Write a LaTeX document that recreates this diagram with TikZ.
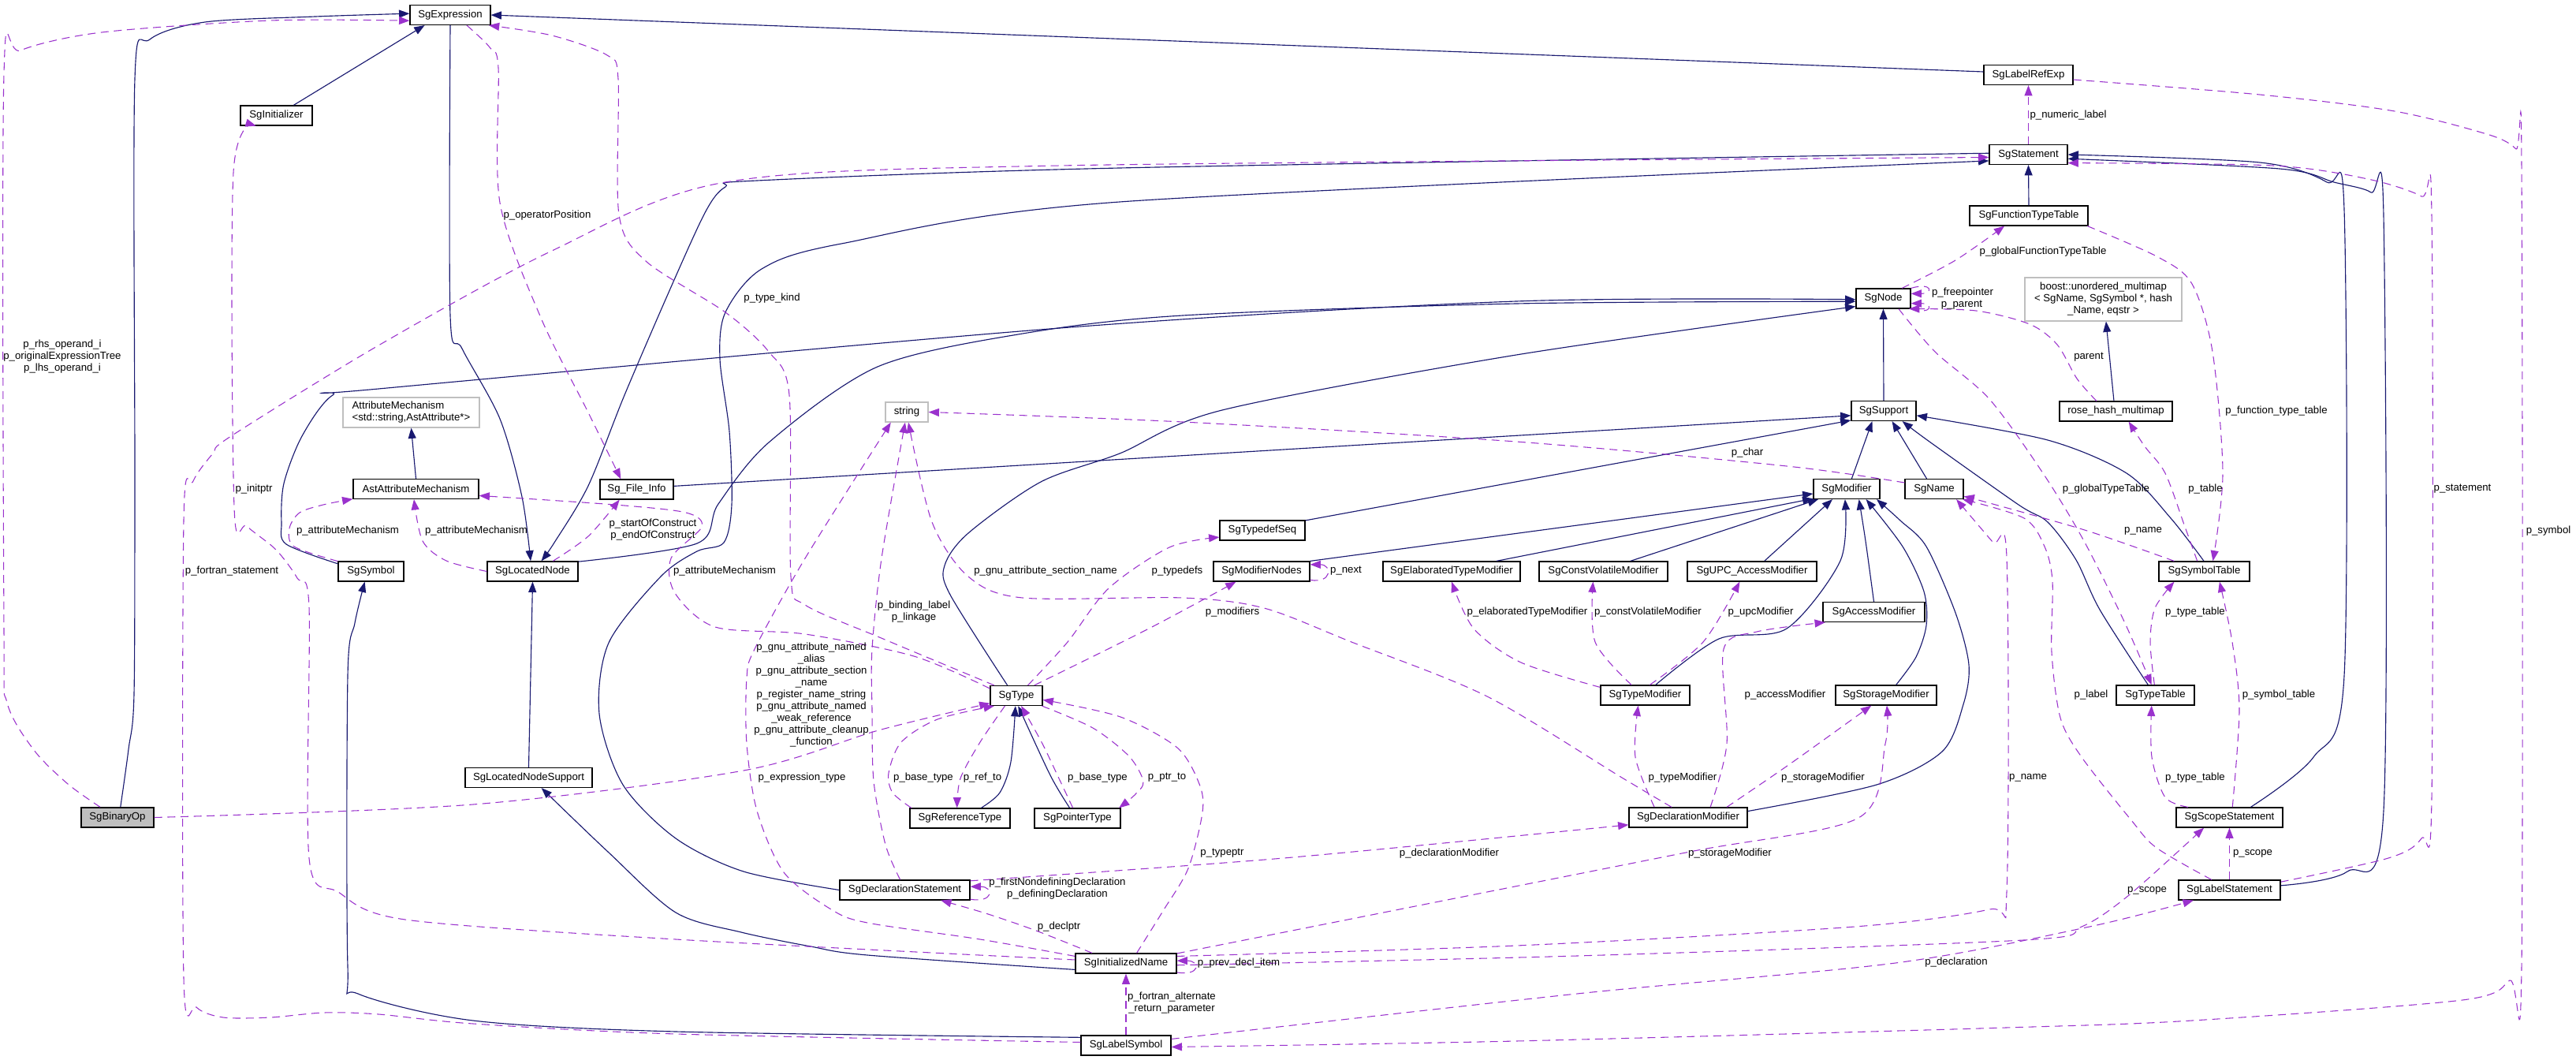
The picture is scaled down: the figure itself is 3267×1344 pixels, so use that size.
\documentclass[tikz,border=0pt]{standalone}
\usepackage{fontspec}
\setmainfont{Liberation Sans}
\usetikzlibrary{arrows.meta}
\definecolor{navyc}{HTML}{191970}
\definecolor{purp}{HTML}{9A32CD}
\definecolor{lgray}{HTML}{BFBFBF}
\tikzset{
 fnt/.style={font=\fontsize{9.9}{11.2}\selectfont},
 box/.style={fnt, draw=black, line width=0.9pt, minimum height=18.75pt, inner sep=0pt},
 gbox/.style={box, draw=lgray},
 inh/.style={draw=navyc, line width=0.85pt, -{Triangle[length=10pt,width=7.5pt]}},
 use/.style={draw=purp, line width=0.8pt, dash pattern=on 7.5pt off 5pt, -{Triangle[length=10pt,width=7.5pt]}},
 lbl/.style={fnt, inner sep=0pt, align=center},
}
\begin{document}
\begin{tikzpicture}[x=0.75pt,y=-0.75pt]
\useasboundingbox (0,0) rectangle (3267,1344);
% ---------------- nodes ----------------
\node[box, minimum width=76.5pt] (SgExpression) at (571,19) {SgExpression};
\node[box, minimum width=68.25pt] (SgInitializer) at (350.5,146.5) {SgInitializer};
\node[gbox, minimum width=129.75pt, minimum height=28.5pt, align=left] (AttrMech) at (521.5,523) {AttributeMechanism\\<std::string,AstAttribute*>};
\node[box, minimum width=119.25pt] (AstAttrMech) at (527.5,620) {AstAttributeMechanism};
\node[box, minimum width=69.75pt] (SgFileInfo) at (807.5,620.5) {Sg\_File\_Info};
\node[box, minimum width=62.25pt] (SgSymbol) at (470.5,724.5) {SgSymbol};
\node[box, minimum width=86.25pt] (SgLocatedNode) at (675.5,724.5) {SgLocatedNode};
\node[gbox, minimum width=40.5pt] (strg) at (1150,522.5) {string};
\node[box, minimum width=120.75pt] (SgLocatedNodeSupport) at (670.5,986) {SgLocatedNodeSupport};
\node[box, minimum width=69pt, fill=lgray] (SgBinaryOp) at (149,1036.5) {SgBinaryOp};
\node[box, minimum width=49.5pt] (SgType) at (1289,882) {SgType};
\node[box, minimum width=95.25pt] (SgReferenceType) at (1217.5,1037.5) {SgReferenceType};
\node[box, minimum width=81.75pt] (SgPointerType) at (1366.5,1037.5) {SgPointerType};
\node[box, minimum width=123.75pt] (SgDeclarationStatement) at (1147.5,1128.5) {SgDeclarationStatement};
\node[box, minimum width=81pt] (SgTypedefSeq) at (1601,672.5) {SgTypedefSeq};
\node[box, minimum width=91.5pt] (SgModifierNodes) at (1600,724.5) {SgModifierNodes};
\node[box, minimum width=130.5pt] (SgElabTM) at (1841,724.5) {SgElaboratedTypeModifier};
\node[box, minimum width=122.25pt] (SgCVM) at (2033.5,724.5) {SgConstVolatileModifier};
\node[box, minimum width=123pt] (SgUPC) at (2222,724.5) {SgUPC\_AccessModifier};
\node[box, minimum width=96.75pt] (SgAccessModifier) at (2376.5,776) {SgAccessModifier};
\node[box, minimum width=63pt] (SgModifier) at (2342,620) {SgModifier};
\node[box, minimum width=55.5pt] (SgName) at (2453,620) {SgName};
\node[box, minimum width=61.5pt] (SgSupport) at (2389,521) {SgSupport};
\node[box, minimum width=51.75pt] (SgNode) at (2388.5,378.5) {SgNode};
\node[box, minimum width=84.75pt] (SgTypeModifier) at (2086.5,881.5) {SgTypeModifier};
\node[box, minimum width=96pt] (SgStorageModifier) at (2392,881.5) {SgStorageModifier};
\node[box, minimum width=112.5pt] (SgDeclMod) at (2141,1036.5) {SgDeclarationModifier};
\node[box, minimum width=96pt] (SgInitializedName) at (1428,1221.5) {SgInitializedName};
\node[box, minimum width=85.5pt] (SgLabelSymbol) at (1428,1325.5) {SgLabelSymbol};
\node[box, minimum width=84.75pt] (SgLabelRefExp) at (2572.5,95) {SgLabelRefExp};
\node[box, minimum width=74.25pt] (SgStatement) at (2572.5,196) {SgStatement};
\node[box, minimum width=112.5pt] (SgFunctionTypeTable) at (2573,273.5) {SgFunctionTypeTable};
\node[gbox, minimum width=149.25pt, minimum height=41.25pt, align=center] (boost) at (2667.5,379.5) {boost::unordered\_multimap\\< SgName, SgSymbol *, hash\\\_Name, eqstr >};
\node[box, minimum width=107.25pt] (rose) at (2683.5,521.5) {rose\_hash\_multimap};
\node[box, minimum width=86.25pt] (SgSymbolTable) at (2795.5,724.5) {SgSymbolTable};
\node[box, minimum width=74.25pt] (SgTypeTable) at (2733.5,881.5) {SgTypeTable};
\node[box, minimum width=101.25pt] (SgScopeStatement) at (2827.5,1036.5) {SgScopeStatement};
\node[box, minimum width=96.75pt] (SgLabelStatement) at (2827.5,1128.5) {SgLabelStatement};
% ---------------- inheritance (navy) ----------------
\draw[inh] plot[smooth] coordinates {(SgBinaryOp.74) (163,950) (170,880) (171,600) (171,100) (190,50) (260,28) (400,21) (SgExpression.178)};
\draw[inh] (SgInitializer.31) -- (SgExpression.202);
\draw[inh] (SgLabelRefExp.176) -- (SgExpression.east);
\draw[inh] plot[smooth] coordinates {(SgExpression.270) (571,400) (586,442) (634,531) (662,630) (SgLocatedNode.101)};
\draw[inh] plot[smooth] coordinates {(SgStatement.178) (1420,213) (960,229) (920,237) (895,268) (851,364) (792,501) (746,616) (703,688) (SgLocatedNode.50)};
\draw[inh] plot[smooth] coordinates {(SgDeclarationStatement.west) (943,1105) (857,1063) (790,995) (760,905) (772,815) (838,731) (884,699) (918,688) (928,640) (925,547) (913,455) (920,396) (966,341) (1067,309) (1420,256) (SgStatement.189)};
\draw[inh] plot[smooth] coordinates {(SgLocatedNode.12) (884,689) (911,639) (975,561) (1113,465) (1297,423) (1500,400) (1923,385) (SgNode.186)};
\draw[inh] plot[smooth] coordinates {(SgSymbol.167) (363,690) (357,663) (360,613) (383,553) (422,501) (480,493) (1344,416) (1923,382) (SgNode.182)};
\draw[inh] plot[smooth] coordinates {(SgType.131) (1205,754) (1198,717) (1228,676) (1320,611) (1420,575) (1550,520) (1923,450) (SgNode.196)};
\draw[inh] (SgSupport.north) -- (SgNode.south);
\draw[inh] (SgFileInfo.5) -- (SgSupport.188);
\draw[inh] (SgTypedefSeq.13) -- (SgSupport.196);
\draw[inh] (SgModifier.64) -- (SgSupport.222);
\draw[inh] (SgName.126) -- (SgSupport.309);
\draw[inh] plot[smooth] coordinates {(SgTypeTable.125) (2663,773) (2633,710) (2597,662) (2560,640) (2447,560) (SgSupport.331)};
\draw[inh] plot[smooth] coordinates {(SgSymbolTable.92) (2753,657) (2697,600) (2597,558) (SgSupport.352)};
\draw[inh] (SgModifierNodes.north east) -- (SgModifier.188);
\draw[inh] (SgElabTM.13) -- (SgModifier.196);
\draw[inh] (SgCVM.21) -- (SgModifier.200);
\draw[inh] (SgUPC.40) -- (SgModifier.216);
\draw[inh] plot[smooth] coordinates {(SgAccessModifier.90) (2366,686) (SgModifier.320)};
\draw[inh] plot[smooth] coordinates {(SgStorageModifier.46) (2430,833) (2443,793) (2440,750) (2413,693) (SgModifier.332)};
\draw[inh] plot[smooth] coordinates {(SgTypeModifier.45) (2180,810) (2266,797) (2334,711) (SgModifier.261)};
\draw[inh] plot[smooth] coordinates {(SgDeclMod.6) (2380,995) (2463,953) (2490,893) (2497,843) (2480,777) (2443,693) (2410,660) (SgModifier.341)};
\draw[inh] plot[smooth] coordinates {(SgReferenceType.26) (1268,1005) (1282,966) (SgType.265)};
\draw[inh] plot[smooth] coordinates {(SgPointerType.127) (1332,983) (SgType.280)};
\draw[inh] (SgLocatedNodeSupport.north) -- (SgLocatedNode.south);
\draw[inh] plot[smooth] coordinates {(SgInitializedName.187) (1100,1211) (1028,1200) (940,1182) (857,1157) (771,1080) (SgLocatedNodeSupport.321)};
\draw[inh] plot[smooth] coordinates {(SgLabelSymbol.170) (857,1308) (600,1294) (454,1260) (441,1225) (441,857) (450,790) (SgSymbol.239)};
\draw[inh] (SgFunctionTypeTable.north) -- (SgStatement.south);
\draw[inh] plot[smooth] coordinates {(SgScopeStatement.26) (2934,960) (2973,857) (2973,266) (2951,231) (2866,206) (SgStatement.0)};
\draw[inh] plot[smooth] coordinates {(SgLabelStatement.5) (2977,1105) (3023,1028) (3023,274) (3007,244) (2960,231) (2891,214) (SgStatement.354)};
\draw[inh] (rose.101) -- (boost.277);
\draw[inh] (AstAttrMech.north) -- (AttrMech.south);
% ---------------- usage (purple dashed) ----------------
\draw[use] plot[smooth] coordinates {(SgBinaryOp.149) (86,994) (43,951) (9,891) (5,797) (5,94) (26,64) (129,41) (343,26) (SgExpression.188)};
\draw[use] plot[smooth] coordinates {(SgBinaryOp.east) (600,1020) (943,977) (1114,926) (SgType.196)};
\draw[use] plot[smooth] coordinates {(SgType.155) (1120,810) (1021,767) (1003,731) (1001,501) (975,446) (920,396) (819,331) (785,272) (784,100) (770,70) (700,45) (SgExpression.345)};
\draw[use] plot[smooth] coordinates {(SgExpression.328) (621,60) (632,86) (634,257) (686,403) (746,523) (SgFileInfo.147)};
\draw[use] plot[smooth] coordinates {(SgInitializedName.176) (857,1191) (514,1166) (429,1131) (392,1088) (392,770) (377,733) (350,697) (313,667) (297,643) (296,219) (SgInitializer.207)};
\draw[use] plot[smooth] coordinates {(SgLabelSymbol.176) (857,1311) (600,1298) (480,1286) (411,1284) (343,1290) (283,1290) (249,1277) (233,1240) (233,660) (245,610) (270,575) (293,553) (480,438) (700,318) (920,231) (1344,210) (SgStatement.184)};
\draw[use] plot[smooth] coordinates {(SgLabelStatement.9) (3029,1088) (3071,1063) (3084,1011) (3084,274) (3071,249) (3003,227) (2883,210) (SgStatement.348)};
\draw[use] (SgStatement.north) -- (SgLabelRefExp.south);
\draw[use] plot[smooth] coordinates {(SgLabelRefExp.354) (2866,120) (3037,141) (3157,171) (3191,189) (3198,210) (3198,1226) (3183,1243) (3123,1268) (2780,1294) (2544,1303) (1923,1320) (SgLabelSymbol.358)};
\draw[use] plot[smooth] coordinates {(SgNode.29) (2480,330) (SgFunctionTypeTable.203)};
\draw[use] plot[smooth] coordinates {(SgFunctionTypeTable.350) (2737,326) (2780,360) (2806,446) (2819,600) (SgSymbolTable.50)};
\draw[use] (SgNode.north east) .. controls +(28,-8) and +(28,0) .. (SgNode.10);
\draw[use] (SgNode.south east) .. controls +(28,8) and +(28,0) .. (SgNode.350);
\draw[use] plot[smooth] coordinates {(rose.152) (2634,480) (2609,437) (2574,411) (2506,394) (SgNode.338)};
\draw[use] plot[smooth] coordinates {(SgNode.326) (2454,446) (2523,506) (2591,600) (2643,686) (2694,788) (SgTypeTable.110)};
\draw[use] plot[smooth] coordinates {(SgSymbolTable.124) (2771,668) (2746,600) (2720,566) (rose.321)};
\draw[use] plot[smooth] coordinates {(SgSymbolTable.161) (2647,673) (2520,637) (SgName.346)};
\draw[use] plot[smooth] coordinates {(SgTypeTable.95) (2727,814) (2733,771) (SgSymbolTable.199)};
\draw[use] plot[smooth] coordinates {(SgScopeStatement.166) (2746,1011) (2729,960) (SgTypeTable.250)};
\draw[use] plot[smooth] coordinates {(SgScopeStatement.74) (2840,900) (2831,814) (SgSymbolTable.326)};
\draw[use] (SgLabelStatement.north) -- (SgScopeStatement.south);
\draw[use] plot[smooth] coordinates {(SgLabelStatement.150) (2735,1075) (2703,1040) (2640,960) (2613,910) (2602,827) (2603,737) (2593,693) (2567,657) (SgName.340)};
\draw[use] plot[smooth] coordinates {(SgInitializedName.8) (1923,1199) (2352,1175) (2523,1153) (2545,1131) (2545,707) (2527,687) (SgName.335)};
\draw[use] plot[smooth] coordinates {(SgInitializedName.11) (1800,1148) (2143,1080) (2357,1037) (2391,943) (SgStorageModifier.274)};
\draw[use] plot[smooth] coordinates {(SgInitializedName.358) (2000,1212) (2566,1192) (2640,1175) (2700,1135) (SgScopeStatement.202)};
\draw[use] plot[smooth] coordinates {(SgLabelSymbol.8) (2000,1260) (2404,1221) (2650,1175) (SgLabelStatement.196)};
\draw[use] plot[smooth] coordinates {(SgDeclarationStatement.8) (1628,1088) (SgDeclMod.187)};
\draw[use] (SgDeclarationStatement.352) .. controls +(30,5) and +(30,0) .. (SgDeclarationStatement.3);
\draw[use] plot[smooth] coordinates {(SgInitializedName.163) (1314,1180) (1250,1158) (SgDeclarationStatement.344)};
\draw[use] plot[smooth] coordinates {(SgInitializedName.44) (1475,1155) (1507,1101) (1525,1030) (1521,994) (1493,948) (1421,909) (SgType.351)};
\draw[use] (SgInitializedName.350) .. controls +(30,5) and +(30,0) .. (SgInitializedName.3);
\draw[use] (SgLabelSymbol.north) -- (SgInitializedName.south);
\draw[use] plot[smooth] coordinates {(SgInitializedName.172) (1243,1191) (1100,1170) (1054,1153) (994,1106) (960,1028) (947,943) (947,860) (957,823) (1021,708) (strg.213)};
\draw[use] plot[smooth] coordinates {(SgDeclarationStatement.114) (1123,1071) (1108,990) (1106,900) (1106,823) (1118,708) (strg.261)};
\draw[use] plot[smooth] coordinates {(SgDeclMod.148) (2057,986) (1886,883) (1714,814) (1603,771) (1500,758) (1297,758) (1228,731) (1182,662) (strg.279)};
\draw[use] plot[smooth] coordinates {(SgName.168) (2266,591) (1923,560) (1500,535) (strg.0)};
\draw[use] plot[smooth] coordinates {(SgType.165) (1159,832) (1021,804) (907,795) (856,752) (851,708) (890,668) (870,650) (780,640) (AstAttrMech.354)};
\draw[use] plot[smooth] coordinates {(SgSymbol.163) (373,693) (367,670) (380,650) (410,640) (AstAttrMech.189)};
\draw[use] plot[smooth] coordinates {(SgLocatedNode.180) (566,711) (536,686) (AstAttrMech.259)};
\draw[use] plot[smooth] coordinates {(SgLocatedNode.27) (746,680) (SgFileInfo.211)};
\draw[use] plot[smooth] coordinates {(SgType.42) (1354,814) (1406,746) (1483,694) (SgTypedefSeq.189)};
\draw[use] plot[smooth] coordinates {(SgType.30) (1457,797) (SgModifierNodes.202)};
\draw[use] (SgModifierNodes.350) .. controls +(28,5) and +(28,0) .. (SgModifierNodes.8);
\draw[use] plot[smooth] coordinates {(SgType.222) (1243,941) (1218,987) (SgReferenceType.106)};
\draw[use] plot[smooth] coordinates {(SgReferenceType.168) (1132,1005) (1127,980) (1143,941) (1189,912) (SgType.205)};
\draw[use] plot[smooth] coordinates {(SgPointerType.114) (1343,987) (1321,941) (SgType.295)};
\draw[use] plot[smooth] coordinates {(SgType.338) (1386,923) (1432,959) (1450,991) (1439,1008) (SgPointerType.14)};
\draw[use] plot[smooth] coordinates {(SgTypeModifier.170) (1929,840) (1869,797) (SgElabTM.270)};
\draw[use] plot[smooth] coordinates {(SgTypeModifier.143) (2023,814) (SgCVM.225)};
\draw[use] plot[smooth] coordinates {(SgTypeModifier.66) (2160,814) (SgUPC.220)};
\draw[use] plot[smooth] coordinates {(SgDeclMod.163) (2074,960) (SgTypeModifier.236)};
\draw[use] plot[smooth] coordinates {(SgDeclMod.25) (2190,943) (2186,823) (2228,801) (SgAccessModifier.192)};
\draw[use] plot[smooth] coordinates {(SgDeclMod.15) (2271,968) (SgStorageModifier.215)};
% ---------------- labels ----------------
\node[lbl] (l1) at (79,452) {p\_rhs\_operand\_i\\p\_originalExpressionTree\\p\_lhs\_operand\_i};
\node[lbl] (l2) at (1017,986) {p\_expression\_type};
\node[lbl] (l3) at (979,378) {p\_type\_kind};
\node[lbl] (l4) at (694,273) {p\_operatorPosition};
\node[lbl] (l5) at (322,620) {p\_initptr};
\node[lbl] (l6) at (294,724) {p\_fortran\_statement};
\node[lbl] (l7) at (3123,620) {p\_statement};
\node[lbl] (l8) at (2623,146) {p\_numeric\_label};
\node[lbl] (l9) at (3232,673) {p\_symbol};
\node[lbl] (l10) at (2591,319) {p\_globalFunctionTypeTable};
\node[lbl] (l11) at (2887,521) {p\_function\_type\_table};
\node[lbl] (l12a) at (2489,371) {p\_freepointer};
\node[lbl] (l12b) at (2488,387) {p\_parent};
\node[lbl] (l13) at (2649,453) {parent};
\node[lbl] (l14) at (2671,620) {p\_globalTypeTable};
\node[lbl] (l15) at (2797,620) {p\_table};
\node[lbl] (l16) at (2718,673) {p\_name};
\node[lbl] (l17) at (2784,776) {p\_type\_table};
\node[lbl] (l18) at (2784,986) {p\_type\_table};
\node[lbl] (l19) at (2890,881) {p\_symbol\_table};
\node[lbl] (l20) at (2857,1082) {p\_scope};
\node[lbl] (l21) at (2652,881) {p\_label};
\node[lbl] (l22) at (2572,986) {p\_name};
\node[lbl] (l23) at (2194,1082) {p\_storageModifier};
\node[lbl] (l24) at (2723,1129) {p\_scope};
\node[lbl] (l25) at (2481,1220) {p\_declaration};
\node[lbl] (l26) at (1838,1082) {p\_declarationModifier};
\node[lbl] (l27) at (1341,1127) {p\_firstNondefiningDeclaration\\p\_definingDeclaration};
\node[lbl] (l28) at (1343,1175) {p\_declptr};
\node[lbl] (l29) at (1550,1082) {p\_typeptr};
\node[lbl] (l30) at (1571,1221) {p\_prev\_decl\_item};
\node[lbl] (l31) at (1486,1272) {p\_fortran\_alternate\\\_return\_parameter};
\node[lbl] (l32) at (1029,881) {p\_gnu\_attribute\_named\\\_alias\\p\_gnu\_attribute\_section\\\_name\\p\_register\_name\_string\\p\_gnu\_attribute\_named\\\_weak\_reference\\p\_gnu\_attribute\_cleanup\\\_function};
\node[lbl] (l33) at (1159,776) {p\_binding\_label\\p\_linkage};
\node[lbl] (l34) at (1326,724) {p\_gnu\_attribute\_section\_name};
\node[lbl] (l35) at (2216,574) {p\_char};
\node[lbl] (l36) at (919,724) {p\_attributeMechanism};
\node[lbl] (l37) at (441,673) {p\_attributeMechanism};
\node[lbl] (l38) at (604,673) {p\_attributeMechanism};
\node[lbl] (l39) at (828,672) {p\_startOfConstruct\\p\_endOfConstruct};
\node[lbl] (l40) at (1493,724) {p\_typedefs};
\node[lbl] (l41) at (1563,776) {p\_modifiers};
\node[lbl] (l42) at (1707,724) {p\_next};
\node[lbl] (l43) at (1246,986) {p\_ref\_to};
\node[lbl] (l44) at (1171,986) {p\_base\_type};
\node[lbl] (l45) at (1392,986) {p\_base\_type};
\node[lbl] (l46) at (1480,986) {p\_ptr\_to};
\node[lbl] (l47) at (1937,776) {p\_elaboratedTypeModifier};
\node[lbl] (l48) at (2090,776) {p\_constVolatileModifier};
\node[lbl] (l49) at (2233,776) {p\_upcModifier};
\node[lbl] (l50) at (2134,986) {p\_typeModifier};
\node[lbl] (l51) at (2264,881) {p\_accessModifier};
\node[lbl] (l52) at (2312,986) {p\_storageModifier};
\end{tikzpicture}
\end{document}
